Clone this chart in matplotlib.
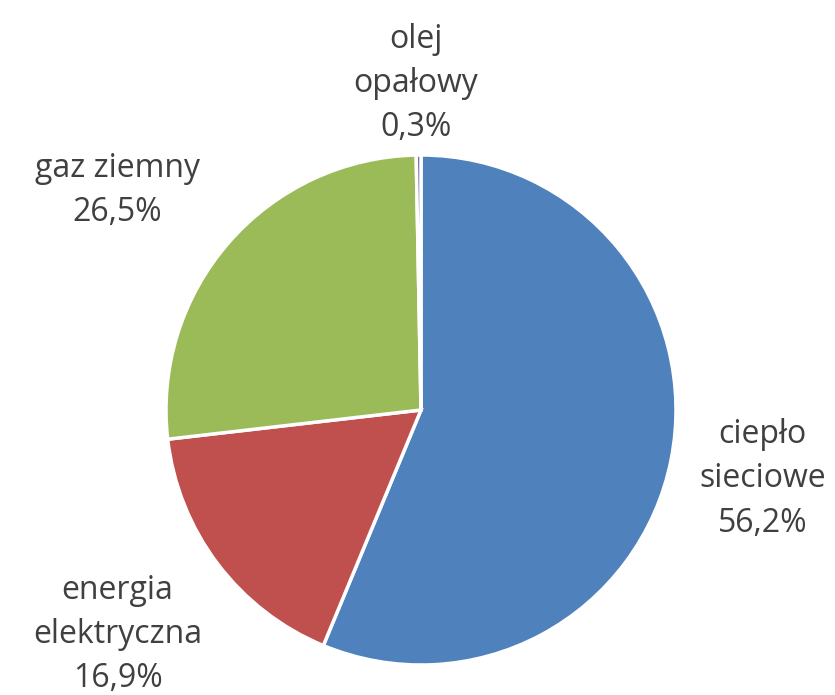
import matplotlib.pyplot as plt

# udziały nośników energii (%)
labels = ["ciepło\nsieciowe", "energia\nelektryczna", "gaz ziemny", "olej\nopałowy"]
shares = [56.2, 16.9, 26.5, 0.3]
colors = ["#4F81BD", "#C0504D", "#9BBB59", "#8064A2"]

# położenie podpisów (w jednostkach promienia)
label_pos = [(1.34, -0.27), (-1.19, -0.88), (-1.19, 0.86), (-0.02, 1.28)]

plt.rcParams['font.family'] = ['Open Sans', 'DejaVu Sans']

fig = plt.figure(figsize=(8.35, 6.95), dpi=100)
ax = fig.add_axes([166 / 835, 30 / 695, 510 / 835, 510 / 695])

ax.pie(shares, colors=colors, startangle=90, counterclock=False,
       wedgeprops=dict(edgecolor="white", linewidth=2.5))
ax.set_xlim(-1, 1)
ax.set_ylim(-1, 1)
ax.set_aspect("equal")
ax.axis("off")

for lab, val, (x, y) in zip(labels, shares, label_pos):
    txt = lab + "\n" + ("%.1f%%" % val).replace(".", ",")
    ax.text(x, y, txt, ha="center", va="center", fontsize=23,
            color="#404040", linespacing=1.45, clip_on=False)

fig.savefig("out.png", dpi=100)
